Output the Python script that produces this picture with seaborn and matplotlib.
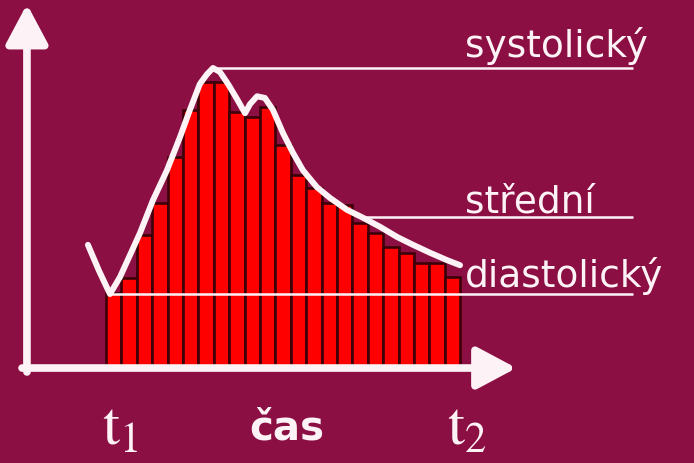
import numpy as np
import pandas as pd
import matplotlib
matplotlib.use('Agg')
import matplotlib.pyplot as plt
import seaborn as sns

# ── Data (pressure in mmHg, time in bar steps) ──
bar_idx = list(range(23))
bar_pressure = [80.2, 82.8, 90.4, 96.1, 104.2, 112.6, 117.5, 117.5, 112.2, 111.3,
                113.1, 106.4, 101.1, 98.8, 96.1, 95.8, 92.6, 90.8, 88.3, 87.3,
                85.5, 85.5, 83.0]

curve_t = [-1.67, -0.95, -0.24, 0.41, 1.06, 1.71, 2.55, 3.46, 4.31, 4.95,
           5.60, 6.06, 6.45, 6.90, 7.42, 8.01, 8.53, 8.85, 9.31, 9.82,
           10.34, 10.99, 11.64, 12.29, 13.20, 14.05, 15.15, 16.19, 17.29, 18.40,
           19.44, 20.54, 21.64, 22.49]
curve_p = [88.7, 84.1, 80.0, 83.0, 86.9, 90.8, 96.6, 101.9, 107.8, 112.6,
           117.2, 118.9, 120.0, 119.3, 117.2, 114.5, 112.0, 113.6, 115.0, 114.7,
           112.6, 108.5, 105.0, 101.9, 98.9, 97.0, 94.9, 93.5, 91.9, 90.1,
           88.7, 87.3, 86.0, 85.1]

systolic = 120.0
mean_p = 93.6
diastolic = 80.0
level_labels = ['systolický', 'střední', 'diastolický']
x_label = 'čas'

# ── Style ──────────────────────────────────────────────────
sns.set_style('white')
plt.rcParams['font.family'] = ['DejaVu Sans']
plt.rcParams['mathtext.fontset'] = 'stix'

bg = '#8c0f43'
white = '#fdf3f7'
axis_p = 66.9          # level of the time axis
line_end = 33.7        # right end of the level lines

fig = plt.figure(figsize=(6.94, 4.63), dpi=100, facecolor=bg)
ax = fig.add_axes([0, 0, 1, 1])
ax.set_facecolor(bg)

# bars standing on the time axis
bars = pd.DataFrame({'i': bar_idx, 'h': np.array(bar_pressure) - axis_p})
sns.barplot(data=bars, x='i', y='h', bottom=axis_p, color='#ff0000', saturation=1,
            width=1, edgecolor='#3c0008', linewidth=1.9, errorbar=None, ax=ax, zorder=2)

# pressure curve
sns.lineplot(x=curve_t, y=curve_p, sort=False, color=white, linewidth=4.3,
             solid_joinstyle='round', solid_capstyle='round', ax=ax, zorder=4)

# level lines start where the curve reaches them
t = np.array(curve_t)
p = np.array(curve_p)
i_max = int(np.argmax(p))
i_min = int(np.argmin(p))
i_second = i_max + int(np.argmax(p[i_max + 3:])) + 3
desc_t, desc_p = t[i_second:], p[i_second:]
t_mean = np.interp(mean_p, desc_p[::-1], desc_t[::-1])

starts = [t[i_max], t_mean, t[i_min]]
levels = [systolic, mean_p, diastolic]
ax.hlines(levels, starts, line_end, colors=white, linewidth=1.8, zorder=3)

label_offsets = [1.9, 0.9, 1.2]
for lvl, lab, off in zip(levels, level_labels, label_offsets):
    ax.text(22.8, lvl + off, lab, color=white, fontsize=27, ha='left', va='baseline', zorder=5)

# axes with arrow heads
arrow = dict(arrowstyle='-|>,head_length=0.6,head_width=0.32', color=white,
             lw=5.5, shrinkA=0, shrinkB=0, mutation_scale=40)
ax.annotate('', xy=(-5.63, 131.3), xytext=(-5.63, axis_p - 0.7), arrowprops=arrow, zorder=6)
ax.annotate('', xy=(26.15, axis_p), xytext=(-5.95, axis_p), arrowprops=arrow, zorder=6)

# time labels
ax.text(-0.75, 53.3, r'$\mathrm{t}_1$', color=white, fontsize=44, ha='left', va='baseline')
ax.text(21.65, 53.3, r'$\mathrm{t}_2$', color=white, fontsize=44, ha='left', va='baseline')
ax.text(11.25, 54.2, x_label, color=white, fontsize=29, fontweight='bold',
        ha='center', va='baseline')

ax.set_xlim(-7.38, 37.68)
ax.set_ylim(50.09, 132.04)
ax.axis('off')

plt.savefig('out.png', dpi=100, facecolor=bg)
